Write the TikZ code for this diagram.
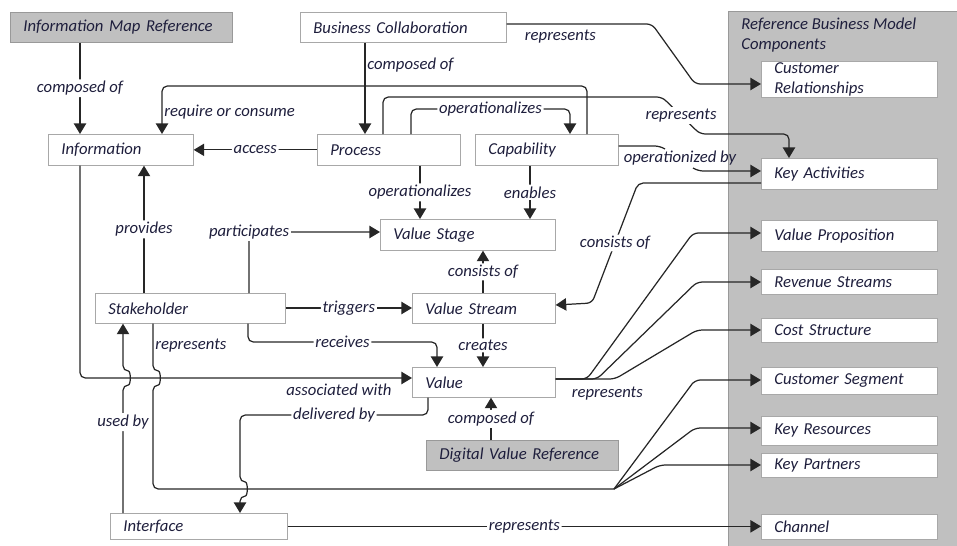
\documentclass[tikz,border=0pt]{standalone}
\usepackage{fontspec}
\setmainfont{Carlito}
\usetikzlibrary{arrows.meta}
\definecolor{panelgray}{HTML}{C0C0C0}
\definecolor{boxline}{HTML}{A8A8A8}
\definecolor{txt}{HTML}{1E1E3C}

\begin{document}
\begin{tikzpicture}[x=0.02cm, y=-0.02cm,
  font=\fontsize{9.5}{11}\selectfont\itshape, text=txt,
  box/.style={draw=boxline, fill=white, anchor=north west, align=left, inner xsep=0.26cm, inner ysep=0pt},
  refbox/.style={box, fill=panelgray, draw=gray!80},
  arr/.style={-{Triangle[length=6pt,width=7pt]}, line width=0.7pt, draw=black!85, rounded corners=3pt},
  lbl/.style={fill=white, inner sep=1pt},
  side/.style={inner sep=1pt}]
\useasboundingbox (0,0) rectangle (957,545);
\draw[fill=panelgray, draw=gray!80] (728,11) rectangle (962,550);
\node[anchor=north west, align=left, inner sep=0pt] (bmctitle) at (741,18) {Reference Business Model\\Components};

% left part
\node[refbox, text width=3.92cm, minimum height=0.6cm] (imr) at (10,12) {Information Map Reference};
\node[box, text width=3.6cm, minimum height=0.6cm] (bc) at (300,12) {Business Collaboration};
\node[box, text width=2.38cm, minimum height=0.62cm] (info) at (48,134) {Information};
\node[box, text width=2.34cm, minimum height=0.62cm] (proc) at (317,134) {Process};
\node[box, text width=2.34cm, minimum height=0.62cm] (cap) at (475,134) {Capability};
\node[box, text width=2.98cm, minimum height=0.62cm] (vstage) at (380,219) {Value Stage};
\node[box, text width=3.28cm, minimum height=0.6cm] (sh) at (95,293) {Stakeholder};
\node[box, text width=2.34cm, minimum height=0.6cm] (vstream) at (412,293) {Value Stream};
\node[box, text width=2.34cm, minimum height=0.6cm] (value) at (412,367) {Value};
\node[refbox, text width=3.32cm, minimum height=0.6cm] (dvr) at (426,440) {Digital Value Reference};
\node[box, text width=3.02cm, minimum height=0.52cm] (intf) at (110,513) {Interface};

% business model components
\node[box, text width=3.0cm, minimum height=0.72cm] (crel) at (761,61) {Customer\\Relationships};
\node[box, text width=3.0cm, minimum height=0.62cm] (kact) at (761,158) {Key Activities};
\node[box, text width=3.0cm, minimum height=0.62cm] (vprop) at (761,220) {Value Proposition};
\node[box, text width=3.0cm, minimum height=0.5cm] (rev) at (761,269) {Revenue Streams};
\node[box, text width=3.0cm, minimum height=0.48cm] (cost) at (761,318) {Cost Structure};
\node[box, text width=3.0cm, minimum height=0.54cm] (cseg) at (761,367) {Customer Segment};
\node[box, text width=3.0cm, minimum height=0.58cm] (kres) at (761,416) {Key Resources};
\node[box, text width=3.0cm, minimum height=0.48cm] (kpart) at (761,453) {Key Partners};
\node[box, text width=3.0cm, minimum height=0.5cm] (chan) at (761,514) {Channel};

\draw[arr] (imr.south -| 80,0) -- node[lbl]{composed of} (info.north -| 80,0);
\draw[arr] (bc.south -| 365,0) -- node[side, anchor=west, pos=.24]{composed of} (proc.north -| 365,0);
\draw[arr] (bc.east |- 0,24) -- node[side, below=2pt, pos=.37]{represents} (652,24) -- (695,84) -- (crel.west |- 0,84);
\draw[arr] (cap.north -| 587,0) -- (587,86) -- (162,86) -- node[side, anchor=west, pos=.54]{require or consume} (info.north -| 162,0);
\draw[arr] (proc.north -| 383,0) -- (383,97) -- (662,97) -- node[lbl]{represents} (700,134) -- (789,134) -- (kact.north -| 789,0);
\draw[arr] (proc.north -| 411,0) -- (411,109) -- node[lbl]{operationalizes} (570,109) -- (cap.north -| 570,0);
\draw[arr] (proc.west) -- node[lbl]{access} (info.east);
\draw[arr] (cap.east |- 0,146) -- (660,146) -- (665,149) (680,158) node[side]{operationized by}
  (693,168) -- (698,171) -- (kact.west |- 0,171);
\draw[arr] (proc.south -| 420,0) -- node[lbl]{operationalizes} (vstage.north -| 420,0);
\draw[arr] (cap.south -| 530,0) -- node[lbl]{enables} (vstage.north -| 530,0);
\draw[arr] (kact.west |- 0,183) -- (638,183) -- node[lbl]{consists of} (592,303) -- (vstream.east |- 0,305);
\draw[arr] (sh.north -| 144,0) -- node[lbl]{provides} (info.south -| 144,0);
\draw[arr] (sh.north -| 249,0) -- (249,232) node[lbl]{participates} -- (vstage.west |- 0,232);
\draw[arr] (sh.east |- 0,308) -- node[lbl]{triggers} (vstream.west |- 0,308);
\draw[arr] (sh.south -| 248,0) -- (248,342) -- node[lbl]{receives} (437,342) -- (value.north -| 437,0);
\draw[arr] (vstream.north -| 483,0) -- node[lbl]{consists of} (vstage.south -| 483,0);
\draw[arr] (vstream.south -| 483,0) -- node[lbl]{creates} (value.north -| 483,0);
\draw[arr] (info.south -| 80,0) -- (80,378) -- node[side, below=2pt, pos=.78]{associated with} (value.west |- 0,378);
\draw[arr] (intf.north -| 123,0) -- node[lbl, pos=.71]{used by} (123,385)
  .. controls (131,385) and (131,371) .. (123,371) -- (sh.south -| 123,0);
\draw[arr, -] (sh.south -| 153,0) -- node[side, anchor=west, pos=.46]{represents} (153,371)
  .. controls (161,371) and (161,385) .. (153,385) -- (153,489) -- (614,489) coordinate (fanb);
\draw[arr] (fanb) -- (695,380) -- (cseg.west |- 0,380);
\draw[arr] (fanb) -- (695,428) -- (kres.west |- 0,428);
\draw[arr] (fanb) -- (660,465) -- (kpart.west |- 0,465);
\draw[arr] (value.south -| 428,0) -- (428,415) -- node[lbl]{delivered by} (240,415) -- (240,482)
  .. controls (248,482) and (248,496) .. (240,496) -- (intf.north -| 240,0);
\draw[arr] (dvr.north -| 491,0) -- node[lbl]{composed of} (value.south -| 491,0);
\draw[arr] (value.east |- 0,379) -- (587,379) -- (693,233) -- (vprop.west |- 0,233);
\draw[arr] (value.east |- 0,379) -- (597,379) -- (697,282) -- (rev.west |- 0,282);
\draw[arr] (value.east |- 0,379) -- node[side, below=3pt, pos=.87]{represents} (615,379) -- (697,330) -- (cost.west |- 0,330);
\draw[arr] (intf.east) -- node[lbl]{represents} (chan.west |- intf.east);
\end{tikzpicture}
\end{document}
